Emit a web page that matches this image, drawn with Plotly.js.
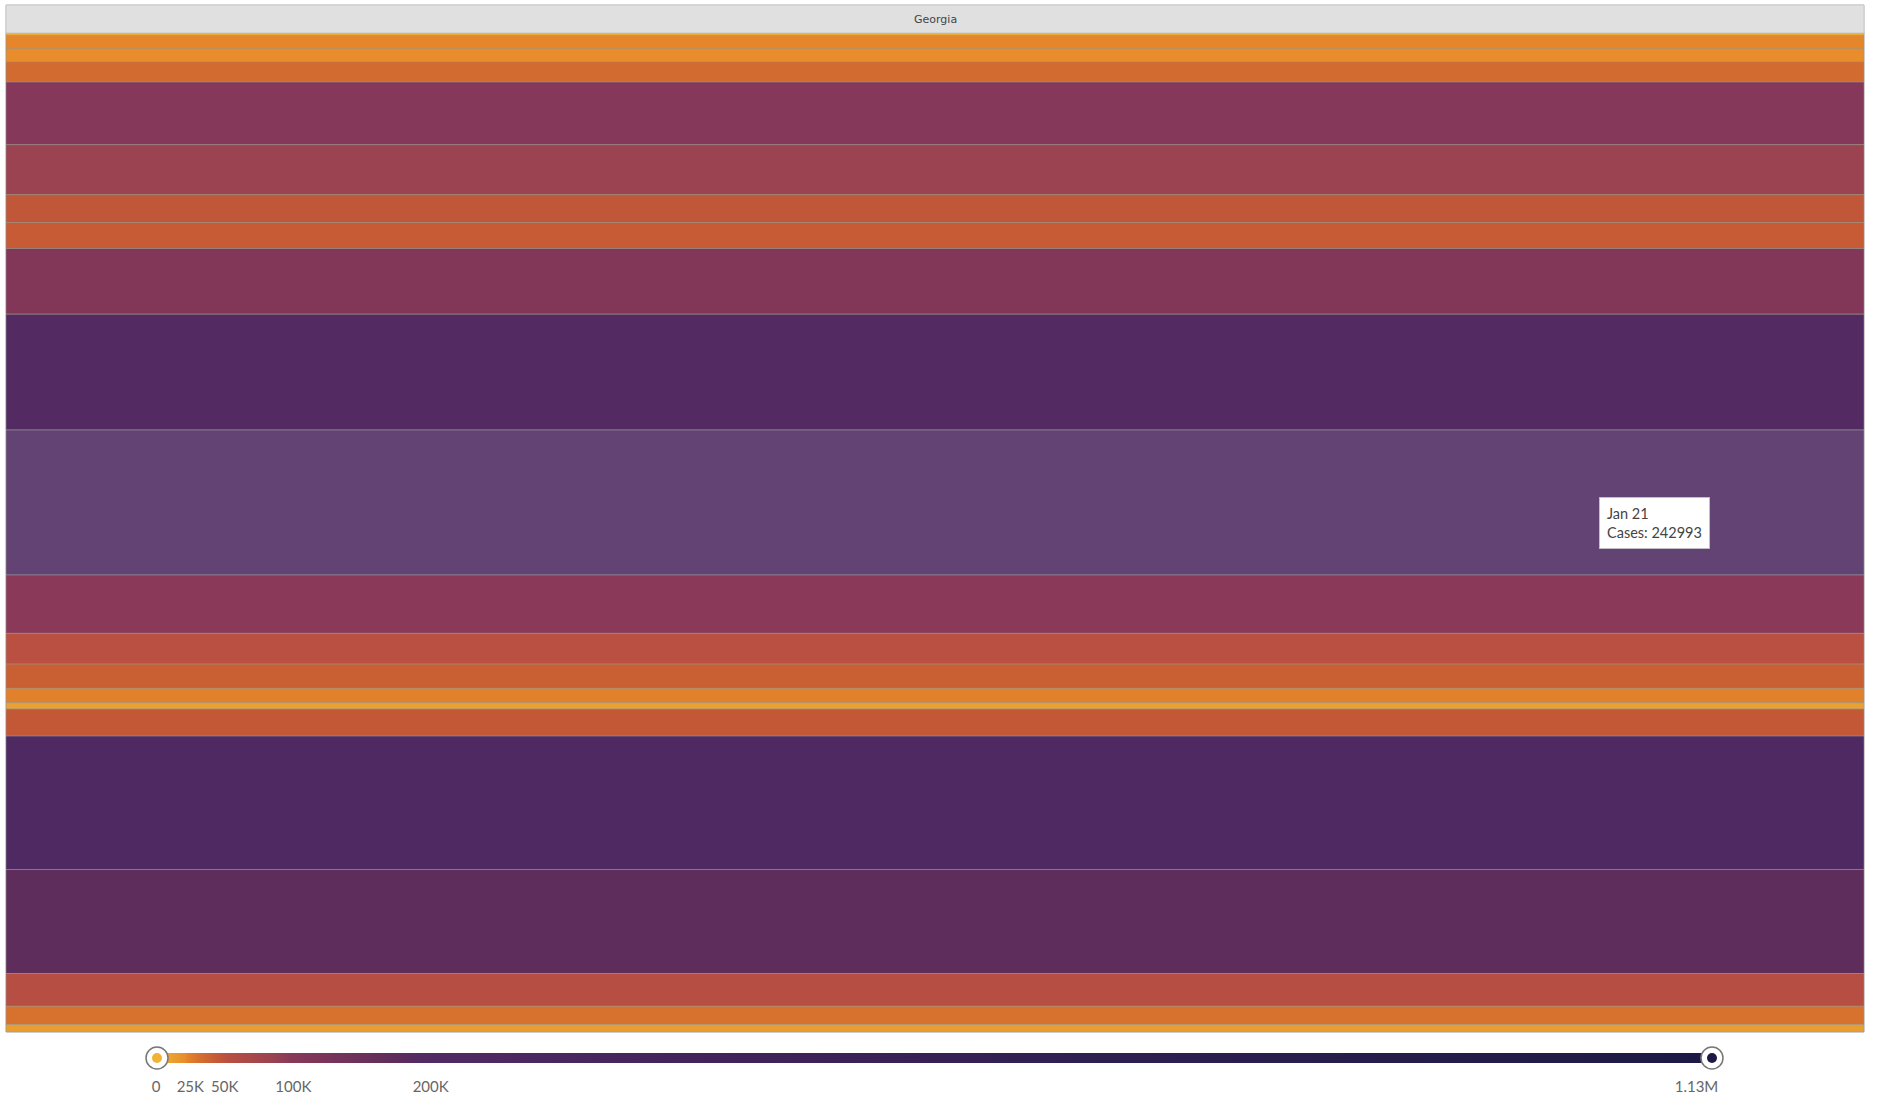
<!DOCTYPE html>
<html>
<head>
<meta charset="utf-8">
<script src="https://cdn.plot.ly/plotly-3.0.1.min.js"></script>
<style>html,body{margin:0;padding:0;background:#fff;}#chart{width:1885px;height:1104px;}</style>
</head>
<body>
<div id="chart"></div>
<script>
// ---- data ----
var rootLabel = "Georgia";
var months = ["Mar 20","Apr 20","May 20","Jun 20","Jul 20","Aug 20","Sep 20","Oct 20","Nov 20","Dec 20",
              "Jan 21","Feb 21","Mar 21","Apr 21","May 21","Jun 21","Jul 21","Aug 21","Sep 21","Oct 21","Nov 21","Dec 21"];
var cases = [4500,22300,21300,34000,105000,83800,46400,43600,110000,193900,
             242993,97700,51400,40700,24100,10600,45200,223400,174300,54800,30700,12400];
var colorMin = 0;
var colorMax = 1130000;
var tickVals = [0,25000,50000,100000,200000,1130000];
var tickText = ["0","25K","50K","100K","200K","1.13M"];
var hoveredIndex = 10;

// ---- styles ----
var colorscale = [
  [0.000,"#f2b233"],[0.009,"#eba232"],[0.019,"#e88c2c"],[0.020,"#e5842a"],
  [0.030,"#d16b30"],[0.039,"#c55a35"],[0.046,"#b94f42"],[0.074,"#9b4350"],
  [0.086,"#8a3a58"],[0.095,"#833759"],[0.154,"#5e2d5c"],[0.172,"#532a62"],
  [0.198,"#4f2962"],[0.350,"#42245a"],[0.600,"#2f1f50"],[1.000,"#1c1a45"]
];
var W = 1885, H = 1104;
var margin = {l:6, r:21, t:5, b:72};
var headerPx = 28;
var plotH = H - margin.t - margin.b;
var plotW = W - margin.l - margin.r;

var ids = [rootLabel].concat(months.map(function(m){return rootLabel+"/"+m;}));
var labels = [rootLabel].concat(months);
var parents = [""].concat(months.map(function(){return rootLabel;}));
var values = [0].concat(cases);
var colors = [0].concat(cases);
var texts = [""].concat(months.map(function(){return "";}));

// last tick label pulled left a little, as in the reference
var shownTickText = tickText.map(function(t, i){
  return i === tickText.length - 1 ? t + "\u00a0\u00a0\u00a0\u00a0\u00a0\u00a0" : t;
});

var cbY = -42 / plotH;

var trace = {
  type: "treemap",
  ids: ids, labels: labels, parents: parents, values: values,
  branchvalues: "remainder",
  sort: false,
  tiling: {packing: "slice", pad: 0},
  pathbar: {visible: false},
  text: texts,
  textinfo: "text",
  hoverinfo: "skip",
  marker: {
    colors: colors,
    colorscale: colorscale,
    cmin: colorMin, cmax: colorMax,
    showscale: true,
    pad: {t: headerPx, l: 0, r: 0, b: 0},
    line: {color: "rgba(150,150,150,0.55)", width: 1},
    colorbar: {
      orientation: "h",
      x: (932 - margin.l) / plotW, xanchor: "center",
      y: cbY, yanchor: "middle",
      thickness: 10,
      lenmode: "pixels", len: 1552,
      outlinewidth: 0,
      xpad: 0, ypad: 0,
      tickmode: "array", tickvals: tickVals, ticktext: shownTickText,
      ticks: "outside", ticklen: 11, tickcolor: "rgba(0,0,0,0)",
      tickfont: {family: "Lato", size: 15, color: "#666"}
    }
  },
  domain: {x: [0, 1], y: [0, 1]}
};

// hovered stripe highlight, derived from data
var total = cases.reduce(function(a,b){return a+b;}, 0);
var before = 0;
for (var i = 0; i < hoveredIndex; i++) before += cases[i];
var childTop = 1 - headerPx / plotH;
var y1 = childTop - (before / total) * childTop;
var y0 = childTop - ((before + cases[hoveredIndex]) / total) * childTop;

var handleY = -26 / plotH;
var leftX = (157 - margin.l) / plotW, rightX = (1712 - margin.l) / plotW;

var shapes = [
  {type:"rect", xref:"paper", yref:"paper", x0:0, x1:1, y0:y0, y1:y1,
   fillcolor:"rgba(255,255,255,0.12)", line:{width:0}},
  {type:"rect", xref:"paper", yref:"paper", x0:0, x1:1, y0:childTop, y1:1,
   fillcolor:"#e0e0e0", line:{color:"#c8c8c8", width:1}},
  {type:"circle", xref:"paper", yref:"paper", xsizemode:"pixel", ysizemode:"pixel",
   xanchor:leftX, yanchor:handleY, x0:-11, x1:11, y0:-11, y1:11,
   fillcolor:"#ffffff", line:{color:"#777", width:1.5}},
  {type:"circle", xref:"paper", yref:"paper", xsizemode:"pixel", ysizemode:"pixel",
   xanchor:leftX, yanchor:handleY, x0:-5, x1:5, y0:-5, y1:5,
   fillcolor:colorscale[0][1], line:{width:0}},
  {type:"circle", xref:"paper", yref:"paper", xsizemode:"pixel", ysizemode:"pixel",
   xanchor:rightX, yanchor:handleY, x0:-11, x1:11, y0:-11, y1:11,
   fillcolor:"#ffffff", line:{color:"#777", width:1.5}},
  {type:"circle", xref:"paper", yref:"paper", xsizemode:"pixel", ysizemode:"pixel",
   xanchor:rightX, yanchor:handleY, x0:-5, x1:5, y0:-5, y1:5,
   fillcolor:colorscale[colorscale.length-1][1], line:{width:0}}
];

var annotations = [
  {
    xref:"paper", yref:"paper", x:0.5, y:(1 + childTop) / 2,
    xanchor:"center", yanchor:"middle", showarrow:false,
    text: rootLabel, font:{family:"DejaVu Sans", size:11, color:"#444"}
  },
  {
    xref:"paper", yref:"paper",
    x: (1654.5 - margin.l) / plotW, y: (H - margin.b - 523) / plotH,
    xanchor:"center", yanchor:"middle",
    text: months[hoveredIndex] + "<br>Cases: " + cases[hoveredIndex],
    showarrow:false, align:"left",
    bgcolor:"#ffffff", bordercolor:"rgba(200,200,200,0.8)", borderwidth:1, borderpad:7,
    font:{family:"Lato", size:14.5, color:"#444"}
  }
];

var layout = {
  width: W, height: H,
  margin: margin,
  paper_bgcolor: "#ffffff",
  shapes: shapes,
  annotations: annotations,
  showlegend: false
};

Plotly.newPlot("chart", [trace], layout, {displayModeBar: false, staticPlot: true}).then(function(gd){
  // raise the range-handle circles above the colour bar
  var paths = gd.querySelectorAll(".layer-above .shapelayer path");
  var svgs = gd.querySelectorAll("svg.main-svg");
  if (paths.length >= 4 && svgs.length > 1) {
    var top = svgs[1];
    var g = document.createElementNS("http://www.w3.org/2000/svg", "g");
    top.appendChild(g);
    for (var k = paths.length - 4; k < paths.length; k++) g.appendChild(paths[k]);
  }
});
</script>
</body>
</html>
